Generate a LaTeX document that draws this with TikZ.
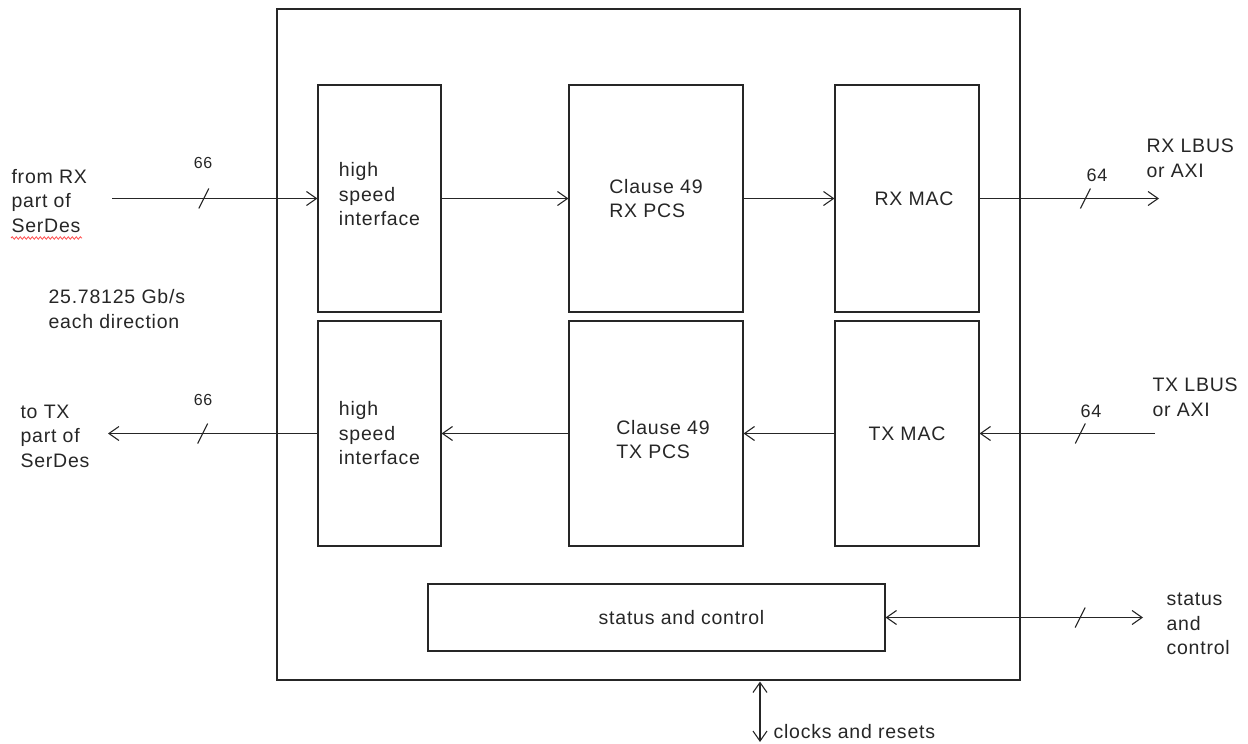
\documentclass[tikz,border=0pt]{standalone}
\usepackage{fontspec}
\setmainfont{Liberation Sans}[LetterSpace=4]
\usetikzlibrary{arrows.meta,decorations.pathmorphing}
\newcommand{\shiftline}[2]{\raisebox{#1}[\height][\depth]{#2}}
\begin{document}
\begin{tikzpicture}[x=1pt,y=-1pt,line width=1.1pt,
  every node/.style={inner sep=0pt,font=\fontsize{19.5}{24.5}\selectfont,text=black!85},
  block/.style={draw=black!85,align=left},
  conn/.style={draw=black!85,-{Straight Barb[length=10pt,width=14pt,line width=1.1pt]}},
  biconn/.style={draw=black!85,{Straight Barb[length=10pt,width=14pt,line width=1.1pt]}-{Straight Barb[length=10pt,width=14pt,line width=1.1pt]}},
  buswidth/.style={font=\fontsize{#1}{#1}\selectfont},
  txt/.style={align=left,anchor=west}]
\useasboundingbox (0,0) rectangle (1248,744);

% core outline
\node[block,minimum width=743,minimum height=671] (core) at (648.5,344.5) {};

% receive path
\node[block,minimum width=123,minimum height=227] (hsirx) at (379.5,198.5)
  {\shiftline{4pt}{high}\\\shiftline{4pt}{speed}\\\shiftline{4pt}{interface}};
\node[block,minimum width=174,minimum height=227] (pcsrx) at (656,198.5) {Clause 49\\RX PCS};
\node[block,minimum width=144,minimum height=227] (macrx) at (907,198.5) {\hspace*{14pt}RX MAC};

% transmit path
\node[block,minimum width=123,minimum height=225] (hsitx) at (379.5,433.5) {high\\speed\\interface};
\node[block,minimum width=174,minimum height=225] (pcstx) at (656,433.5)
  {\shiftline{-6pt}{\hspace*{14pt}Clause 49}\\\shiftline{-6pt}{\hspace*{14pt}TX PCS}};
\node[block,minimum width=144,minimum height=225] (mactx) at (907,433.5) {TX MAC};

% status block
\node[block,minimum width=457,minimum height=67] (stat) at (656.5,617.5) {\hspace*{50pt}status and control};

% outside end points
\coordinate (rxin) at (112,198.5);
\coordinate (txout) at (108,433.5);
\coordinate (rxout) at (1159,198.5);
\coordinate (txin) at (1155,433.5);
\coordinate (statout) at (1143,617.5);
\coordinate (clk) at (760,742);

% connectors
\draw[conn] (rxin) -- coordinate[pos=0.447] (b1) (hsirx.west);
\draw[conn] (hsirx.east) -- (pcsrx.west);
\draw[conn] (pcsrx.east) -- (macrx.west);
\draw[conn] (macrx.east) -- coordinate[pos=0.59] (b2) (rxout);
\draw[conn] (txin) -- coordinate[pos=0.426] (b3) (mactx.east);
\draw[conn] (mactx.west) -- (pcstx.east);
\draw[conn] (pcstx.west) -- (hsitx.east);
\draw[conn] (hsitx.west) -- coordinate[pos=0.548] (b4) (txout);
\draw[biconn] (stat.east) -- coordinate[pos=0.756] (b5) (statout);
\draw[biconn] (clk) -- ([yshift=-1pt]clk |- core.south);

% bus-width ticks
\foreach \b in {b1,b2,b3,b4,b5}
  \draw[draw=black!85] (\b) +(-5,10) -- +(5,-10);

% bus-width labels
\node[buswidth=16] (w1) at (203,163) {66};
\node[buswidth=16] (w4) at (203,400) {66};
\node[buswidth=18] (w2) at (1097,175) {64};
\node[buswidth=18] (w3) at (1091,411) {64};

% outside labels
\node[txt] (lrxin) at (11,201) {from RX\\part of\\SerDes};
\node[txt] (lrate) at (48,309) {25.78125 Gb/s\\each direction};
\node[txt] (ltxout) at (20,436) {to TX\\part of\\SerDes};
\node[txt] (lrxout) at (1146,158.5) {RX LBUS\\or AXI};
\node[txt] (ltxin) at (1152,397.5) {TX LBUS\\or AXI};
\node[txt] (lstat) at (1166,624) {status\\and\\control};
\node[txt] (lclk) at (773,732) {clocks and resets};

% spell-check squiggle under SerDes
\draw[red!70,line width=0.8pt,decorate,decoration={snake,amplitude=1.2pt,segment length=4pt}] (11,238) -- (82,238);
\end{tikzpicture}
\end{document}
